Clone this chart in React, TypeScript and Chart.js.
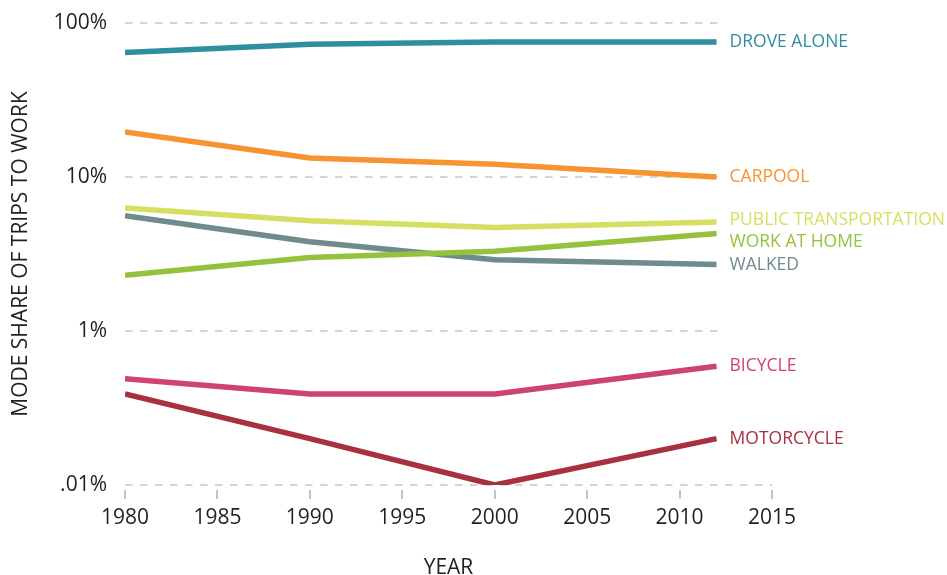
import React, { useEffect, useRef } from "react";
import { Chart, registerables } from "chart.js";

Chart.register(...registerables);

const years = [1980, 1990, 2000, 2012];
const droveAlone = [64.3, 72.7, 75.3, 75.3];
const carpool = [19.6, 13.3, 12.1, 10.0];
const publicTransportation = [6.3, 5.2, 4.7, 5.1];
const workAtHome = [2.3, 3.0, 3.3, 4.3];
const walked = [5.6, 3.8, 2.9, 2.7];
const bicycle = [0.49, 0.39, 0.39, 0.59];
const motorcycle = [0.39, 0.2, 0.1, 0.2];

const seriesNames = ["DROVE ALONE", "CARPOOL", "PUBLIC TRANSPORTATION", "WORK AT HOME", "WALKED", "BICYCLE", "MOTORCYCLE"];
const seriesValues = [droveAlone, carpool, publicTransportation, workAtHome, walked, bicycle, motorcycle];
const seriesColors = ["#2f8fa1", "#f7942f", "#d5df62", "#95c13d", "#6f8b8b", "#cf446d", "#a8303f"];

const yTickValues = [0.1, 1, 10, 100];
const yTickLabels = [".01%", "1%", "10%", "100%"];

const xMin = 1980;
const xMax = 2015;
const xStep = 5;

const FONT = "'Open Sans', 'DejaVu Sans', sans-serif";
const TEXT = "#231f20";

// label nudges (pixels) to avoid overlap at the right end
const labelNudge: Record<string, number> = { "PUBLIC TRANSPORTATION": -2, "WORK AT HOME": 9 };

const decorPlugin = {
  id: "decor",
  beforeDatasetsDraw(chart: any) {
    const { ctx, chartArea, scales } = chart;
    const xs = scales.x;
    const ys = scales.y;
    const lastX = xs.getPixelForValue(years[years.length - 1]);
    ctx.save();
    ctx.strokeStyle = "#d4d4d4";
    ctx.lineWidth = 2;
    ctx.setLineDash([7.5, 7.5]);
    yTickValues.forEach((v, i) => {
      const y = Math.round(ys.getPixelForValue(v));
      ctx.beginPath();
      ctx.moveTo(chartArea.left, y);
      ctx.lineTo(i === 0 ? chartArea.right : lastX + 4, y);
      ctx.stroke();
    });
    ctx.setLineDash([]);
    ctx.strokeStyle = "#c4c4c4";
    for (let yr = xMin; yr <= xMax; yr += xStep) {
      const x = Math.round(xs.getPixelForValue(yr));
      ctx.beginPath();
      ctx.moveTo(x, chartArea.bottom + 5);
      ctx.lineTo(x, chartArea.bottom + 14);
      ctx.stroke();
    }
    ctx.restore();
  },
  afterDatasetsDraw(chart: any) {
    const { ctx, scales } = chart;
    const xs = scales.x;
    const ys = scales.y;
    const lastIdx = years.length - 1;
    const x = xs.getPixelForValue(years[lastIdx]) + 13;
    ctx.save();
    ctx.font = `17.5px ${FONT}`;
    ctx.textBaseline = "middle";
    ctx.textAlign = "left";
    seriesNames.forEach((name, i) => {
      const y = ys.getPixelForValue(seriesValues[i][lastIdx]) + (labelNudge[name] || 0);
      ctx.fillStyle = seriesColors[i];
      ctx.fillText(name, x, y);
    });
    ctx.restore();
  },
};

export default function App() {
  const canvasRef = useRef<HTMLCanvasElement | null>(null);

  useEffect(() => {
    const canvas = canvasRef.current;
    if (!canvas) return;
    const chart = new Chart(canvas, {
      type: "line",
      data: {
        datasets: seriesNames.map((name, i) => ({
          label: name,
          data: years.map((yr, j) => ({ x: yr, y: seriesValues[i][j] })),
          borderColor: seriesColors[i],
          backgroundColor: seriesColors[i],
          borderWidth: 5.5,
          pointRadius: 0,
          tension: 0,
          fill: false,
          borderCapStyle: "butt" as const,
          borderJoinStyle: "round" as const,
        })),
      },
      options: {
        responsive: false,
        animation: false,
        devicePixelRatio: 1,
        layout: { padding: { left: 0, right: 175, top: 23, bottom: 0 } },
        plugins: { legend: { display: false }, tooltip: { enabled: false } },
        scales: {
          x: {
            type: "linear",
            min: xMin,
            max: xMax,
            afterBuildTicks: (scale: any) => {
              const t = [];
              for (let yr = xMin; yr <= xMax; yr += xStep) t.push({ value: yr });
              scale.ticks = t;
            },
            afterFit: (scale: any) => {
              scale.height = 90;
              scale.paddingLeft = 0;
              scale.paddingRight = 0;
            },
            grid: { display: false, drawTicks: false },
            border: { display: false },
            ticks: {
              padding: 20,
              color: TEXT,
              font: { family: FONT, size: 21 },
              callback: (v: any) => String(v),
              maxRotation: 0,
            },
            title: {
              display: true,
              text: "YEAR",
              color: TEXT,
              font: { family: FONT, size: 21, lineHeight: 1 },
              padding: { top: 0, bottom: -4 },
            },
          },
          y: {
            type: "logarithmic",
            min: 0.1,
            max: 100,
            afterBuildTicks: (scale: any) => {
              scale.ticks = yTickValues.map((v) => ({ value: v }));
            },
            afterFit: (scale: any) => {
              scale.width = 125;
              scale.paddingTop = 0;
              scale.paddingBottom = 0;
            },
            grid: { display: false, drawTicks: false },
            border: { display: false },
            ticks: {
              padding: 18,
              color: TEXT,
              font: { family: FONT, size: 21 },
              callback: (v: any) => {
                const i = yTickValues.indexOf(Number(v));
                return i >= 0 ? yTickLabels[i] : "";
              },
            },
            title: {
              display: true,
              text: "MODE SHARE OF TRIPS TO WORK",
              color: TEXT,
              font: { family: FONT, size: 21, lineHeight: 1.2 },
              padding: { top: 8, bottom: 0 },
            },
          },
        },
      },
      plugins: [decorPlugin],
    } as any);
    return () => chart.destroy();
  }, []);

  return (
    <div style={{ position: "absolute", left: 0, top: 0, width: 947, height: 575, background: "#fff" }}>
      <canvas ref={canvasRef} width={947} height={575} />
    </div>
  );
}
